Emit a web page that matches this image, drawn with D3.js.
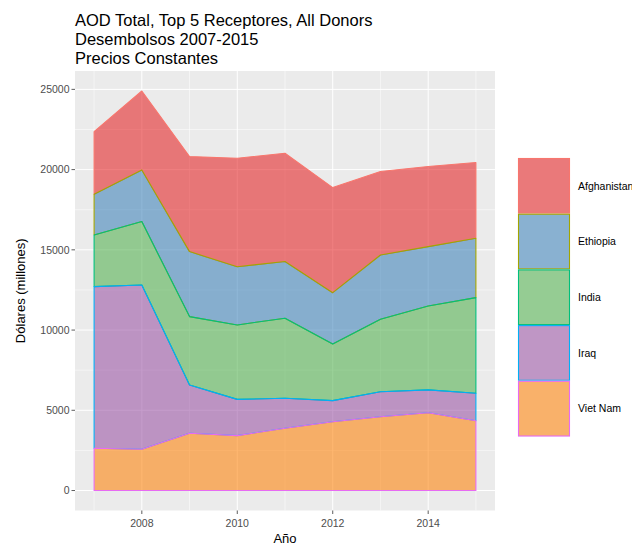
<!DOCTYPE html>
<html><head><meta charset="utf-8">
<script src="https://cdn.jsdelivr.net/npm/d3@7"></script>
<style>body{margin:0;background:#fff}svg{display:block;font-family:"Liberation Sans",Arial,Helvetica,sans-serif}</style>
</head><body><svg id="c" width="632" height="546"></svg>
<script>
const years = [2007,2008,2009,2010,2011,2012,2013,2014,2015];
const countries = ["Afghanistan","Ethiopia","India","Iraq","Viet Nam"];
const afghanistan = [3900,4920,5920,6760,6750,6550,5200,4990,4720];
const ethiopia    = [2540,3220,4050,3630,3530,3200,4010,3700,3700];
const india       = [3220,3950,4260,4640,4990,3530,4510,5230,5960];
const iraq        = [10080,10240,3010,2260,1870,1310,1560,1420,1710];
const vietnam     = [2630,2570,3570,3420,3880,4290,4600,4850,4350];
const yTicks = [0,5000,10000,15000,20000,25000];
const xTicks = [2008,2010,2012,2014];
const titleLines = ["AOD Total, Top 5 Receptores, All Donors","Desembolsos 2007-2015","Precios Constantes"];
const fillColors = ["#E41A1C","#377EB8","#4DAF4A","#984EA3","#FF7F00"];
const lineColors = ["#F8766D","#A3A500","#00BF7D","#00B0F6","#E76BF3"];

const seriesArr = [afghanistan,ethiopia,india,iraq,vietnam];
const rows = years.map((y,i)=>{const o={year:y};countries.forEach((c,j)=>o[c]=seriesArr[j][i]);return o;});

const svg = d3.select("#c");
const P = {l:75,r:495,t:71,b:510.5};
const stackKeys = countries.slice().reverse();
const stacked = d3.stack().keys(stackKeys)(rows);
const maxTot = d3.max(stacked[stacked.length-1], d=>d[1]);
const xr = d3.extent(years), xpad=(xr[1]-xr[0])*0.05, ypad=maxTot*0.05;
const x = d3.scaleLinear().domain([xr[0]-xpad,xr[1]+xpad]).range([P.l,P.r]);
const y = d3.scaleLinear().domain([-ypad,maxTot+ypad]).range([P.b,P.t]);

svg.append("rect").attr("x",P.l).attr("y",P.t).attr("width",P.r-P.l).attr("height",P.b-P.t).attr("fill","#EBEBEB");
const g = svg.append("g");
const yMinor = yTicks.slice(0,-1).map(v=>v+2500);
const xMinor = [2007,2009,2011,2013,2015];
yMinor.forEach(v=>g.append("line").attr("x1",P.l).attr("x2",P.r).attr("y1",y(v)).attr("y2",y(v)).attr("stroke","#fff").attr("stroke-width",0.5));
xMinor.forEach(v=>g.append("line").attr("y1",P.t).attr("y2",P.b).attr("x1",x(v)).attr("x2",x(v)).attr("stroke","#fff").attr("stroke-width",0.5));
yTicks.forEach(v=>g.append("line").attr("x1",P.l).attr("x2",P.r).attr("y1",y(v)).attr("y2",y(v)).attr("stroke","#fff").attr("stroke-width",1));
xTicks.forEach(v=>g.append("line").attr("y1",P.t).attr("y2",P.b).attr("x1",x(v)).attr("x2",x(v)).attr("stroke","#fff").attr("stroke-width",1));

countries.forEach((c,j)=>{
  const s = stacked.find(s=>s.key===c);
  const pts = s.map(d=>[x(d.data.year),y(d[1])]).concat(s.slice().reverse().map(d=>[x(d.data.year),y(d[0])]));
  g.append("path").attr("d","M"+pts.map(p=>p.join(",")).join("L")+"Z")
   .attr("fill",fillColors[j]).attr("fill-opacity",0.56)
   .attr("stroke",lineColors[j]).attr("stroke-width",1.1).attr("stroke-linejoin","round");
});

const ax = svg.append("g").attr("font-size",10.5).attr("fill","#4D4D4D");
yTicks.forEach(v=>{
  ax.append("line").attr("x1",P.l-3.5).attr("x2",P.l).attr("y1",y(v)).attr("y2",y(v)).attr("stroke","#333").attr("stroke-width",0.8);
  ax.append("text").attr("x",P.l-5.5).attr("y",y(v)).attr("dy","0.35em").attr("text-anchor","end").attr("fill","#4D4D4D").text(v);
});
xTicks.forEach(v=>{
  ax.append("line").attr("y1",P.b).attr("y2",P.b+3.5).attr("x1",x(v)).attr("x2",x(v)).attr("stroke","#333").attr("stroke-width",0.8);
  ax.append("text").attr("x",x(v)).attr("y",P.b+16.5).attr("text-anchor","middle").attr("fill","#4D4D4D").text(v);
});
svg.append("text").attr("x",(P.l+P.r)/2).attr("y",542.5).attr("text-anchor","middle").attr("font-size",13).attr("fill","#000").text("Año");
svg.append("text").attr("transform",`translate(25,${(P.t+P.b)/2}) rotate(-90)`).attr("text-anchor","middle").attr("font-size",13).attr("fill","#000").text("Dólares (millones)");

titleLines.forEach((t,i)=>svg.append("text").attr("x",P.l).attr("y",25.5+i*19).attr("font-size",16.5).attr("fill","#000").text(t));

const L = {x:518,y:158,w:52,h:55.7};
countries.forEach((c,j)=>{
  const yy = L.y + j*L.h;
  svg.append("rect").attr("x",L.x).attr("y",yy).attr("width",L.w).attr("height",L.h).attr("fill","#F2F2F2");
  svg.append("rect").attr("x",L.x+0.5).attr("y",yy+0.5).attr("width",L.w-1).attr("height",L.h-1)
    .attr("fill",fillColors[j]).attr("fill-opacity",0.56).attr("stroke",lineColors[j]).attr("stroke-width",1.1);
  svg.append("text").attr("x",578).attr("y",yy+L.h/2).attr("dy","0.35em").attr("font-size",10.5).attr("fill","#000").text(c);
});
</script></body></html>
